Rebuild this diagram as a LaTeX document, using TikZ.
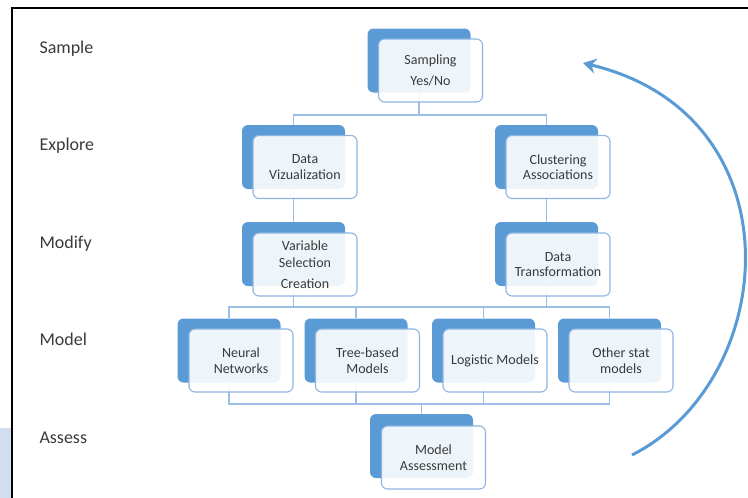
\documentclass[tikz,border=0pt]{standalone}
\usepackage{fontspec}
\setmainfont{Carlito}
\usetikzlibrary{arrows.meta}

\definecolor{accent}{RGB}{91,155,213}
\definecolor{rimblue}{RGB}{141,180,226}
\definecolor{linkblue}{RGB}{157,190,230}
\definecolor{ink}{RGB}{58,58,58}
\definecolor{sidepanel}{RGB}{208,222,240}

\tikzset{
  backbox/.style={fill=accent, rounded corners=6pt, minimum width=103pt,
    minimum height=64pt, inner sep=0pt},
  frontbox/.style={draw=rimblue, line width=1.1pt, fill=white, fill opacity=0.9,
    text opacity=1, rounded corners=6pt, minimum width=104pt, minimum height=63pt,
    inner sep=0pt, align=center, font=\fontsize{14}{15.5}\selectfont, text=ink},
  link/.style={draw=linkblue, line width=1.3pt},
  stage/.style={anchor=base west, font=\fontsize{18}{20}\selectfont, text=ink},
  cycle arrow/.style={draw=accent, line width=3pt,
    -{Stealth[length=13pt,width=15pt]}},
}

\begin{document}
\begin{tikzpicture}[x=1pt,y=-1pt]
\useasboundingbox (0,0) rectangle (748,498);

% frame of the slide region
\fill[sidepanel] (0,428) rectangle (10.8,498);
\draw[line width=2.4pt] (12,498) -- (12,8) -- (748,8);

% stage labels
\node[stage] (lsample)  at (36,53)   {Sample};
\node[stage] (lexplore) at (36,150.5) {Explore};
\node[stage] (lmodify)  at (36,248)  {Modify};
\node[stage] (lmodel)   at (36,345.5) {Model};
\node[stage] (lassess)  at (36,443)  {Assess};

% back plates
\node[backbox] (sampB)  at (419,60.5) {};
\node[backbox] (vizB)   at (293.5,157) {};
\node[backbox] (clusB)  at (546.5,157) {};
\node[backbox] (varB)   at (293.5,254) {};
\node[backbox] (transB) at (546.5,254) {};
\node[backbox] (neurB)  at (229,350.5) {};
\node[backbox] (treeB)  at (356,350.5) {};
\node[backbox] (logB)   at (483.5,350.5) {};
\node[backbox] (othB)   at (609.5,350.5) {};
\node[backbox] (assB)   at (421.5,446) {};

% connectors
\coordinate (j1) at (0,115);
\coordinate (bt) at (0,307);
\coordinate (bb) at (0,404);
\draw[link] (sampB.south) -- (sampB.south |- j1);
\draw[link] (vizB.north) -- (vizB.north |- j1) -- (clusB.north |- j1) -- (clusB.north);
\draw[link] (vizB.south) -- (varB.north);
\draw[link] (clusB.south) -- (transB.north);
\draw[link] (varB.south) -- (varB.south |- bt);
\draw[link] (transB.south) -- (transB.south |- bt);
\draw[link] (neurB.north) -- (neurB.north |- bt) -- (othB.north |- bt) -- (othB.north);
\draw[link] (treeB.north) -- (treeB.north |- bt);
\draw[link] (logB.north) -- (logB.north |- bt);
\draw[link] (neurB.south) -- (neurB.south |- bb) -- (othB.south |- bb) -- (othB.south);
\draw[link] (treeB.south) -- (treeB.south |- bb);
\draw[link] (logB.south) -- (logB.south |- bb);
\draw[link] (assB.north) -- (assB.north |- bb);

% front cards
\node[frontbox] (samp)  at (430.5,70.5) {Sampling\\[6pt]Yes/No};
\node[frontbox] (viz)   at (305,167)   {Data\\Vizualization};
\node[frontbox] (clus)  at (558,167)   {Clustering\\Associations};
\node[frontbox] (var)   at (305,264.5) {Variable\\[1.5pt]Selection\\[5.5pt]Creation};
\node[frontbox] (trans) at (558,264.5) {Data\\Transformation};
\node[frontbox] (neur)  at (241,360.5) {Neural\\Networks};
\node[frontbox] (tree)  at (367.5,360.5) {Tree-based\\Models};
\node[frontbox] (logm)  at (495,360.5) {Logistic Models};
\node[frontbox] (oth)   at (621,360.5) {Other stat\\models};
\node[frontbox] (ass)   at (433.5,457.5) {Model\\Assessment};

% iteration arrow
\coordinate (cycstart) at (632,455);
\coordinate (cycend) at (583,63);
\draw[cycle arrow] (cycstart) .. controls (780,380) and (800,115) .. (cycend);
\end{tikzpicture}
\end{document}
